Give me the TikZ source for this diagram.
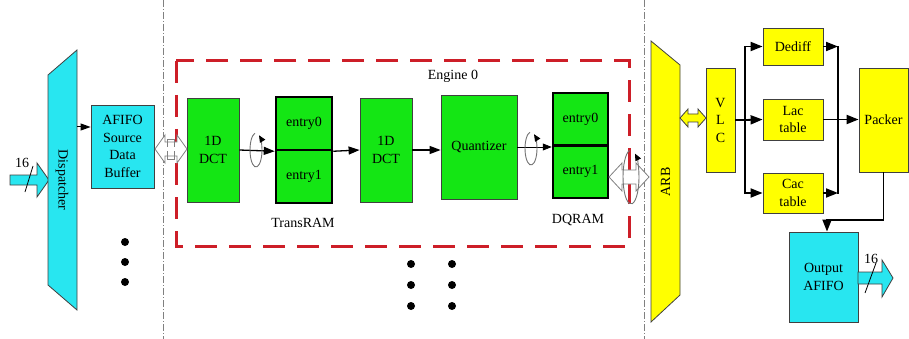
\documentclass[tikz,border=0pt]{standalone}
\usepackage{fontspec}
\setmainfont{Liberation Serif}
\usetikzlibrary{arrows.meta}
\definecolor{cy}{RGB}{40,230,240}
\definecolor{gr}{RGB}{20,230,20}
\definecolor{ye}{RGB}{255,255,0}
\definecolor{rd}{RGB}{205,30,40}
\begin{document}
\begin{tikzpicture}[x=1pt,y=-1pt, font=\fontsize{14}{17.5}\selectfont,
 box/.style={draw=black!75, line width=0.8pt, inner sep=0pt, align=center},
 ram/.style={draw=black, line width=2.5pt, fill=gr, inner sep=0pt, minimum width=56pt, minimum height=53pt},
 arr/.style={-{Triangle[length=11pt,width=8pt]}, line width=1.3pt},
 barr/.style={-{Triangle[length=12pt,width=9pt]}, line width=1.8pt},
 spin/.style={draw=black!55, line width=0.9pt, -{Triangle[length=7pt,width=6pt,color=black,fill=black]}},
 divider/.style={draw=gray, line width=0.8pt, dash pattern=on 7pt off 2pt on 1pt off 2pt},
 bigdot/.style={fill=black, circle, inner sep=0pt, minimum size=8pt},
 hollow/.style={fill=white, draw=gray, line width=0.8pt}
]
\fill[white] (0,0) rectangle (909,339);
\useasboundingbox (0,0) rectangle (909,339);

% separators
\coordinate (s1t) at (163,0); \coordinate (s1b) at (163,339);
\coordinate (s2t) at (644,0); \coordinate (s2b) at (644,339);
\draw[divider] (s1t) -- (s1b);
\draw[divider] (s2t) -- (s2b);

% engine frame
\draw[rd, line width=3pt, dash pattern=on 22pt off 12pt] (176,61) rectangle (629,246);
\node (eng) at (453,76) {Engine 0};

% input arrow
\draw[fill=cy, draw=black!75, line width=0.8pt] (10,175) -- (37,175) -- (37,163) -- (49,180) -- (37,197) -- (37,185) -- (10,185) -- cycle;
\draw[line width=0.8pt] (25,192) -- (33,166);
\node (in16) at (22,163) {16};

% dispatcher
\draw[fill=cy, draw=black!75, line width=0.8pt] (48,75) -- (77,50) -- (77,310) -- (48,285) -- cycle;
\node[rotate=-90] (disp) at (62,180) {Dispatcher};

% AFIFO
\node[box, fill=cy, minimum width=63pt, minimum height=83pt] (afifo) at (122.5,146.5) {AFIFO\\Source\\Data\\Buffer};
\coordinate (dispr) at (77,127);
\draw[-{Triangle[length=10pt,width=7pt]}, line width=1pt] (dispr) -- (afifo.west |- dispr);

% engine blocks
\node[box, fill=gr, minimum width=52pt, minimum height=104pt] (dct1) at (213,150) {1D\\DCT};
\node[ram] (tram0) at (304,123.5) {entry0};
\node[ram] (tram1) at (304,176.5) {entry1};
\node (tlab) at (303,223) {TransRAM};
\node[box, fill=gr, minimum width=52pt, minimum height=104pt] (dct2) at (386,150) {1D\\DCT};
\node[box, fill=gr, minimum width=76pt, minimum height=104pt] (quant) at (479,147) {Quantizer};
\node[ram, minimum width=55pt, minimum height=52.5pt] (dq0) at (580.5,119.25) {entry0};
\node[ram, minimum width=55pt, minimum height=52.5pt] (dq1) at (580.5,171.75) {entry1};
\node (dlab) at (578,220) {DQRAM};

% left hollow double arrow
\draw[hollow] (155,149) -- (165,135) -- (165,142) -- (177,142) -- (177,135) -- (187,149) -- (177,163) -- (177,156) -- (165,156) -- (165,163) -- cycle;
\draw[gray, line width=0.6pt] (167,147) -- (167,139) -- (174,139) -- (174,147);
\draw[gray, line width=0.6pt] (167,151) -- (167,159) -- (174,159) -- (174,151);

% engine arrows
\draw[arr] (dct1.east) -- (tram0.south west);
\draw[arr] (tram0.south east) -- (dct2.west);
\draw[arr] (dct2.east) -- (quant.west |- dct2.east);
\draw[-{Triangle[length=9pt,width=7pt]}, line width=0.7pt] (quant.east) -- (dq0.south west |- quant.east);

% spin symbols
\coordinate (r1) at (256,150);
\draw[spin] (r1) ++(100:6pt and 17pt) arc[start angle=100, end angle=420, x radius=6pt, y radius=17pt];
\coordinate (r2) at (531,148.5);
\draw[spin] (r2) ++(100:6pt and 16.5pt) arc[start angle=100, end angle=420, x radius=6pt, y radius=16.5pt];

% right hollow double arrow
\draw[hollow] (609,177) -- (622,163) -- (622,170) -- (636,170) -- (636,163) -- (649,177) -- (636,191) -- (636,184) -- (622,184) -- (622,191) -- cycle;
\coordinate (r3) at (631,177);
\draw[spin] (r3) ++(100:8pt and 27pt) arc[start angle=100, end angle=420, x radius=8pt, y radius=27pt];

% ARB
\draw[fill=ye, draw=black!75, line width=0.8pt] (651,41) -- (680,65) -- (680,295) -- (651,322) -- cycle;
\node[rotate=90] (arb) at (665.5,182) {ARB};

% yellow double arrow
\draw[fill=ye, draw=black!75, line width=0.8pt] (680,118) -- (688,109) -- (688,114) -- (698,114) -- (698,109) -- (706,118) -- (698,127) -- (698,122) -- (688,122) -- (688,127) -- cycle;

% right side blocks
\node[box, fill=ye, minimum width=29pt, minimum height=104pt] (vlc) at (720.5,120) {V\\L\\C};
\node[box, fill=ye, minimum width=60pt, minimum height=37pt] (dediff) at (793,46.5) {Dediff};
\node[box, fill=ye, minimum width=60pt, minimum height=41pt] (lac) at (793,119.5) {Lac\\table};
\node[box, fill=ye, minimum width=60pt, minimum height=40pt] (cac) at (793,193) {Cac\\table};
\node[box, fill=ye, minimum width=49pt, minimum height=104pt] (packer) at (883.5,120) {Packer};
\node[box, fill=cy, minimum width=69pt, minimum height=90pt] (oafifo) at (823.5,277) {Output\\AFIFO};

\coordinate (busm) at (745,120);
\coordinate (bust) at (745,46.5);
\coordinate (busb) at (745,193);
\draw[line width=1.8pt] (vlc.east) -- (busm);
\draw[line width=1.8pt, line cap=rect] (bust) -- (busb);
\draw[barr] (bust) -- (dediff.west);
\draw[barr] (busm) -- (lac.west);
\draw[barr] (busb) -- (cac.west);
\coordinate (rt) at (838,46.5);
\coordinate (rb) at (838,193);
\draw[barr] (dediff.east) -- (rt);
\draw[barr] (cac.east) -- (rb);
\draw[line width=1.8pt, line cap=rect] (rt) -- (rb);
\draw[barr] (lac.east) -- (packer.west |- lac.east);
\coordinate (pk) at (827,220);
\draw[barr] (packer.south) |- (pk) -- (oafifo.north -| pk);

% output arrow
\draw[fill=cy, draw=black!75, line width=0.8pt] (858,272) -- (882,272) -- (882,260) -- (893,278) -- (882,297) -- (882,284) -- (858,284) -- cycle;
\draw[line width=0.8pt] (865,293) -- (876,263);
\node (out16) at (871,259) {16};

% dots
\node[bigdot] (da1) at (125,242) {};
\node[bigdot] (da2) at (125,262) {};
\node[bigdot] (da3) at (125,282) {};
\node[bigdot] (db1) at (411,264) {};
\node[bigdot] (db2) at (411,285) {};
\node[bigdot] (db3) at (411,306) {};
\node[bigdot] (dc1) at (452,264) {};
\node[bigdot] (dc2) at (452,285) {};
\node[bigdot] (dc3) at (452,306) {};
\end{tikzpicture}
\end{document}
